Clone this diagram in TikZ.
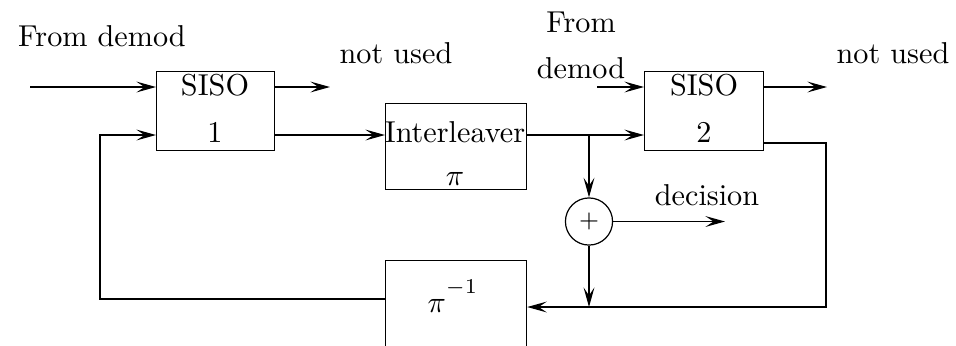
\documentclass[tikz,border=0pt]{standalone}
\usetikzlibrary{arrows.meta}
\begin{document}
\begin{tikzpicture}[x=0.331pt,y=-0.331pt,
  line width=0.4pt,
  >={Stealth[length=6.5pt,width=3.6pt,inset=2.7pt]},
  blk/.style={draw,rectangle,inner sep=0pt,anchor=north west},
  lbl/.style={inner sep=0pt,anchor=base},
  adder/.style={draw,circle,inner sep=0pt,minimum size=15.6pt},
]
\useasboundingbox (0,0) rectangle (956,345);
\clip (0,0) rectangle (956,345);

% processing blocks
\node[blk,minimum width=39.06pt,minimum height=26.15pt] (s1) at (156,71) {};
\node[blk,minimum width=46.67pt,minimum height=28.47pt] (il) at (385,103) {};
\node[blk,minimum width=39.39pt,minimum height=26.15pt] (s2) at (644,71) {};
\node[blk,minimum width=46.67pt,minimum height=33pt] (pinv) at (385,260) {};
\node[adder] (sum) at (589,221.5) {\footnotesize$+$};

% block texts
\node[lbl] (s1a) at (215,95) {SISO};
\node[lbl] (s1b) at (215,142) {1};
\node[lbl] (ila) at (455,142) {Interleaver};
\node[lbl] (ilb) at (455,185) {$\pi$};
\node[lbl] (s2a) at (704,95) {SISO};
\node[lbl] (s2b) at (704,142) {2};
\node[lbl] (pia) at (453,312) {$\pi^{\raisebox{2.5pt}{$\scriptstyle -1$}}$};

% free labels
\node[lbl] (t1) at (102,46) {From demod};
\node[lbl] (t2) at (396,63) {not used};
\node[lbl] (t3) at (581,32) {From};
\node[lbl] (t4) at (581,78) {demod};
\node[lbl] (t5) at (893,63) {not used};
\node[lbl] (t6) at (707,205) {decision};

% connector end points
\coordinate (in1) at (30,87);
\coordinate (nu1) at (330,87);
\coordinate (row2) at (0,135);
\coordinate (br) at (589,135);
\coordinate (d2) at (597,87);
\coordinate (nu2) at (827,87);
\coordinate (s2o) at (826,143);
\coordinate (fb) at (826,307);
\coordinate (j) at (589,307);
\coordinate (dec) at (725,221.5);
\coordinate (fl) at (100,299);
\coordinate (fu) at (100,135);

% connectors
\draw[->] (in1) -- (s1.west |- in1);
\draw[->] (s1.east |- in1) -- (nu1);
\draw[->] (s1.east |- row2) -- (il.west |- row2);
\draw[->] (il.east |- row2) -- (s2.west |- row2);
\draw[->] (d2) -- (s2.west |- d2);
\draw[->] (s2.east |- d2) -- (nu2);
\draw[->] (br) -- (sum.north);
\draw[->] (sum.east) -- (dec);
\draw[->] (sum.south) -- (j);
\draw[->] (s2.east |- s2o) -- (s2o) -- (fb) -- (pinv.east |- fb);
\draw[->] (pinv.west |- fl) -- (fl) -- (fu) -- (s1.west |- fu);
\end{tikzpicture}
\end{document}
